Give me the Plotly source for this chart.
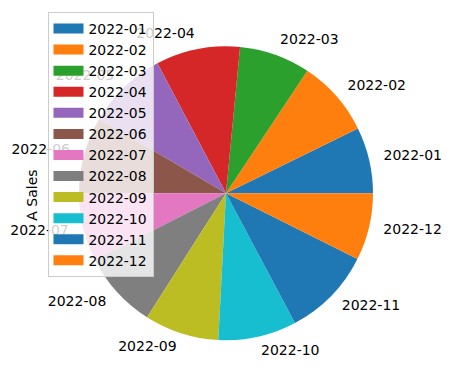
import math
import plotly.graph_objects as go

months = ["2022-01", "2022-02", "2022-03", "2022-04", "2022-05", "2022-06",
          "2022-07", "2022-08", "2022-09", "2022-10", "2022-11", "2022-12"]
sales = [262, 302, 281, 333, 318, 304, 270, 305, 295, 310, 354, 266]
colors = ["#1f77b4", "#ff7f0e", "#2ca02c", "#d62728", "#9467bd", "#8c564b",
          "#e377c2", "#7f7f7f", "#bcbd22", "#17becf", "#1f77b4", "#ff7f0e"]
ylabel = "A Sales"

W, H = 451, 389
CX, CY, R = 226.0, 193.3, 147.0
FONT = "DejaVu Sans"

total = sum(sales)
fig = go.Figure()

# pie: first slice starts at 3 o'clock, counterclockwise
fig.add_trace(go.Pie(
    labels=months, values=sales, sort=False, direction="counterclockwise",
    rotation=90 - 360.0 * sales[0] / total,
    marker=dict(colors=colors, line=dict(width=0)),
    textinfo="none", hoverinfo="skip", showlegend=False,
    domain=dict(x=[(CX - R) / W, (CX + R) / W],
                y=[(H - CY - R) / H, (H - CY + R) / H]),
))

# outside labels at 1.1 r (like matplotlib labeldistance)
cum = 0.0
rx, ry, lx, ly, rt, lt = [], [], [], [], [], []
for m, v in zip(months, sales):
    mid = (cum + v / 2) / total * 2 * math.pi
    cum += v
    x = CX + 1.1 * R * math.cos(mid)
    y = CY - 1.1 * R * math.sin(mid)
    if math.cos(mid) >= 0:
        rx.append(x); ry.append(y); rt.append(m)
    else:
        lx.append(x); ly.append(y); lt.append(m)

for xs, ys, ts, pos in [(rx, ry, rt, "middle right"), (lx, ly, lt, "middle left")]:
    fig.add_trace(go.Scatter(
        x=xs, y=ys, text=ts, mode="text", textposition=pos,
        textfont=dict(family=FONT, size=14, color="black"),
        hoverinfo="skip", showlegend=False, cliponaxis=False,
    ))

# legend entries
for m, c in zip(months, colors):
    fig.add_trace(go.Scatter(
        x=[None], y=[None], mode="lines", name=m,
        line=dict(color=c, width=10), hoverinfo="skip",
    ))

fig.add_annotation(
    text=ylabel, textangle=-90, x=21.7 / W, y=(H - 195) / H,
    xref="paper", yref="paper", showarrow=False,
    font=dict(family=FONT, size=14, color="black"),
)

fig.update_layout(
    width=W, height=H, margin=dict(l=0, r=0, t=0, b=0),
    paper_bgcolor="white", plot_bgcolor="rgba(0,0,0,0)",
    xaxis=dict(range=[0, W], visible=False, fixedrange=True),
    yaxis=dict(range=[H, 0], visible=False, fixedrange=True),
    legend=dict(
        x=47.5 / W, y=(H - 12) / H, xanchor="left", yanchor="top",
        bgcolor="rgba(255,255,255,0.8)", bordercolor="#cccccc", borderwidth=1,
        font=dict(family=FONT, size=13.9, color="black"),
        entrywidth=68, entrywidthmode="pixels",
    ),
    hovermode=False,
)

fig.write_html("out.html")
